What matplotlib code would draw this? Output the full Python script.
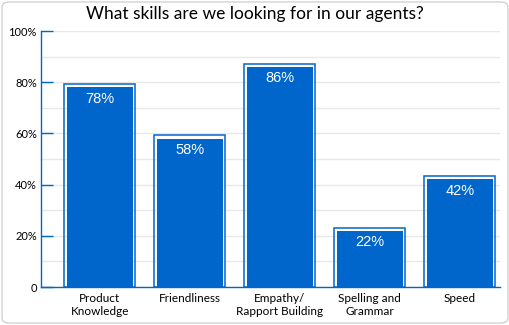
import matplotlib
matplotlib.use("Agg")
import matplotlib.pyplot as plt
from matplotlib.patches import FancyBboxPatch
from matplotlib.ticker import MultipleLocator

# data
skills = ["Product\nKnowledge", "Friendliness", "Empathy/\nRapport Building",
          "Spelling and\nGrammar", "Speed"]
shares = [78, 58, 86, 22, 42]
y_ticks = [0, 20, 40, 60, 80, 100]
y_tick_labels = ["0", "20%", "40%", "60%", "80%", "100%"]

BLUE = "#0066CC"
GRID = "#e8e8e8"

plt.rcParams["font.family"] = ["Lato", "DejaVu Sans"]

fig = plt.figure(figsize=(5.1, 3.25), dpi=100)
ax = fig.add_axes([41 / 510, 38 / 325, 459 / 510, 256 / 325])

# rounded outer frame of the chart
frame = FancyBboxPatch((0.004, 0.006), 0.992, 0.988,
                       boxstyle="round,pad=0,rounding_size=0.015",
                       transform=fig.transFigure, facecolor="none",
                       edgecolor="#c8c8c8", linewidth=0.8)
fig.patches.append(frame)

x = list(range(len(skills)))
# blue fill with white gap, then thin blue outline outside
ax.bar(x, shares, width=0.733, color=BLUE, edgecolor="none", zorder=3)
ax.bar(x, [v + 1.2 for v in shares], width=0.79, facecolor="none",
       edgecolor=BLUE, linewidth=1.1, zorder=3)

for xi, v in zip(x, shares):
    ax.text(xi, v - 1.8, f"{v}%", ha="center", va="top", color="white",
            fontsize=10.5, family=["Liberation Sans", "DejaVu Sans"], zorder=4)

ax.set_xlim(-0.653, 4.447)
ax.set_ylim(0, 100)
ax.set_xticks(x)
ax.set_xticklabels(skills, fontsize=8.5, linespacing=1.3)
ax.set_yticks(y_ticks)
ax.set_yticklabels(y_tick_labels, fontsize=8)
ax.yaxis.set_minor_locator(MultipleLocator(10))

ax.tick_params(axis="x", length=0, pad=4)
ax.tick_params(axis="y", which="major", direction="in", length=8.6,
               color=BLUE, width=1, pad=3)
ax.tick_params(axis="y", which="minor", length=0)
ax.grid(axis="y", which="both", color=GRID, linewidth=1, zorder=0)
ax.set_axisbelow(True)

for s in ["top", "right"]:
    ax.spines[s].set_visible(False)
for s in ["left", "bottom"]:
    ax.spines[s].set_color(BLUE)
    ax.spines[s].set_linewidth(1)

fig.text(0.5, 0.957, "What skills are we looking for in our agents?",
         ha="center", va="center", fontsize=12.5)

fig.savefig("out.png", dpi=100)
